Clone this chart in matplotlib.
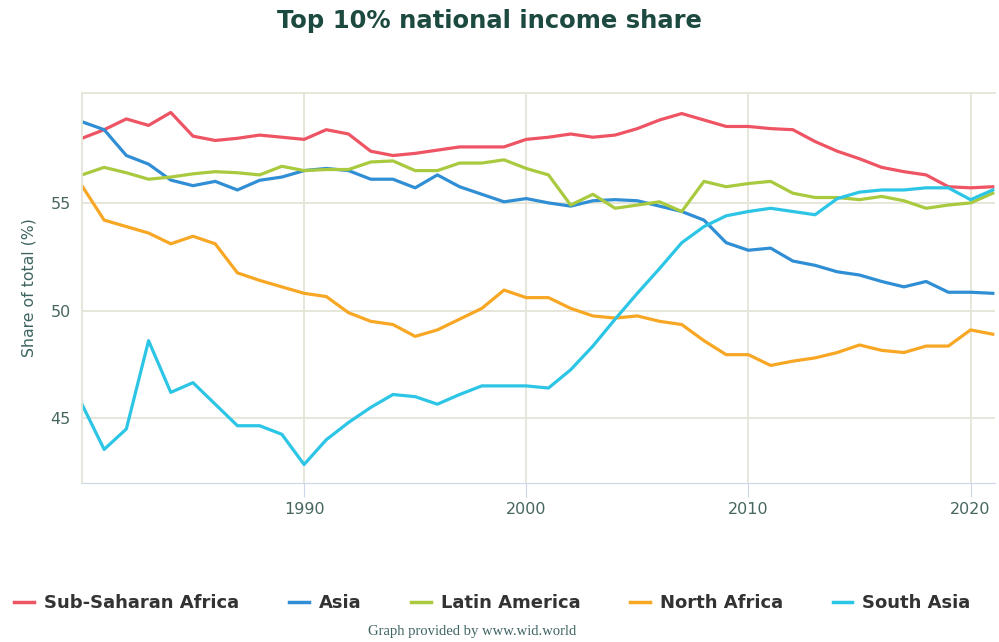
import matplotlib.pyplot as plt

years = list(range(1980, 2022))

ssa = [58.0, 58.4, 58.9, 58.6, 59.2, 58.1, 57.9, 58.0, 58.15, 58.05,
       57.95, 58.4, 58.2, 57.4, 57.2, 57.3, 57.45, 57.6, 57.6, 57.6,
       57.95, 58.05, 58.2, 58.05, 58.15, 58.45, 58.85, 59.15, 58.85, 58.55,
       58.55, 58.45, 58.4, 57.85, 57.4, 57.05, 56.65, 56.45, 56.3, 55.75,
       55.7, 55.75]
asia = [58.77, 58.4, 57.2, 56.8, 56.06, 55.8, 56.0, 55.6, 56.05, 56.2,
        56.5, 56.6, 56.5, 56.1, 56.1, 55.7, 56.3, 55.75, 55.4, 55.05,
        55.2, 55.0, 54.85, 55.1, 55.15, 55.1, 54.85, 54.6, 54.2, 53.15,
        52.8, 52.9, 52.3, 52.1, 51.8, 51.65, 51.35, 51.1, 51.35, 50.85,
        50.85, 50.8]
latam = [56.3, 56.65, 56.4, 56.1, 56.2, 56.35, 56.45, 56.4, 56.3, 56.7,
         56.5, 56.55, 56.55, 56.9, 56.95, 56.5, 56.5, 56.85, 56.85, 57.0,
         56.6, 56.3, 54.9, 55.4, 54.75, 54.9, 55.05, 54.6, 56.0, 55.75,
         55.9, 56.0, 55.45, 55.25, 55.25, 55.15, 55.3, 55.1, 54.75, 54.9,
         55.0, 55.45]
nafrica = [55.8, 54.2, 53.9, 53.6, 53.1, 53.45, 53.1, 51.75, 51.4, 51.1,
           50.8, 50.65, 49.9, 49.5, 49.35, 48.8, 49.1, 49.6, 50.1, 50.95,
           50.6, 50.6, 50.1, 49.75, 49.65, 49.75, 49.5, 49.35, 48.6, 47.95,
           47.95, 47.45, 47.65, 47.8, 48.05, 48.4, 48.15, 48.05, 48.35, 48.35,
           49.1, 48.9]
sasia = [45.65, 43.55, 44.5, 48.6, 46.2, 46.65, 45.65, 44.65, 44.65, 44.25,
         42.85, 44.0, 44.8, 45.5, 46.1, 46.0, 45.65, 46.1, 46.5, 46.5,
         46.5, 46.4, 47.25, 48.35, 49.6, 50.8, 51.95, 53.15, 53.9, 54.4,
         54.6, 54.75, 54.6, 54.45, 55.2, 55.5, 55.6, 55.6, 55.7, 55.7,
         55.15, 55.6]

names = ['Sub-Saharan Africa', 'Asia', 'Latin America', 'North Africa', 'South Asia']
series = [ssa, asia, latam, nafrica, sasia]
colors = ['#ee5463', '#2f8ed4', '#a9c93f', '#f8a724', '#2cc5e6']

fig = plt.figure(figsize=(9.99, 6.42), dpi=100)
ax = fig.add_axes([0.082, 0.248, 0.914, 0.607])

for vals, name, c in zip(series, names, colors):
    ax.plot(years, vals, color=c, lw=2.3, label=name, solid_joinstyle='round')

ax.set_xlim(1980, 2021.1)
ax.set_ylim(42.0, 60.1)
ax.set_xticks([1990, 2000, 2010, 2020])
ax.set_yticks([45, 50, 55])
ax.grid(True, color='#e4e4d8', lw=1.3)
ax.set_axisbelow(True)
for s in ['left', 'top', 'right']:
    ax.spines[s].set_color('#e4e4d8')
    ax.spines[s].set_linewidth(1.3)
ax.spines['right'].set_visible(False)
ax.spines['bottom'].set_color('#ccd6eb')
ax.tick_params(axis='x', colors='#ccd6eb', length=10, labelcolor='#46665f', labelsize=11.5)
ax.tick_params(axis='y', length=0, labelcolor='#46665f', labelsize=11.5, pad=8)
ax.set_ylabel('Share of total (%)', color='#3d6461', fontsize=11.3, labelpad=10)

fig.text(0.49, 0.968, 'Top 10% national income share', ha='center', va='center',
         fontsize=17.5, fontweight='bold', color='#1d4a40')

fig.legend(loc='center', bbox_to_anchor=(0.493, 0.06), ncol=5, frameon=False,
           prop={'weight': 'bold', 'size': 13}, handlelength=1.1,
           columnspacing=2.75, handletextpad=0.55, labelcolor='#333333')
for line in fig.legends[0].get_lines():
    line.set_linewidth(2.5)

fig.text(0.473, 0.016, 'Graph provided by www.wid.world', ha='center', va='center',
         fontsize=10.5, family='Liberation Serif', color='#3d6461')

fig.savefig('out.png', dpi=100)
